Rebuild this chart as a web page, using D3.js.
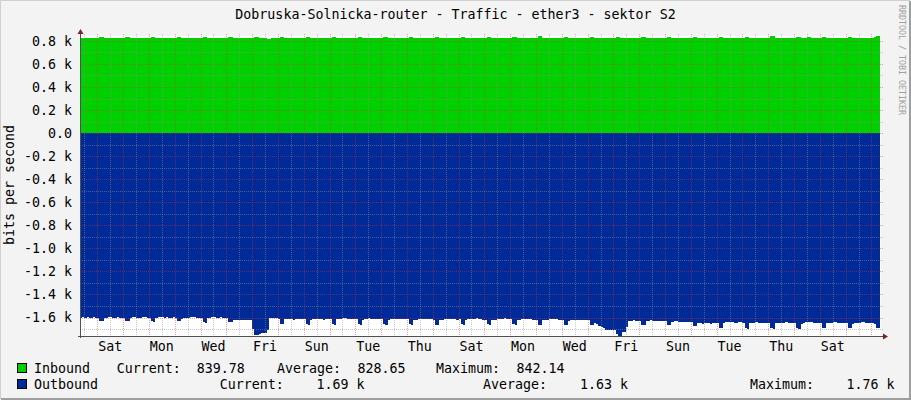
<!DOCTYPE html>
<html>
<head>
<meta charset="utf-8">
<script src="https://cdn.jsdelivr.net/npm/d3@7"></script>
<style>
	body { margin: 0; background: #f3f3f3; }
	text { font-family: "DejaVu Sans Mono", monospace; }
</style>
</head>
<body>
<div id="chart-area"></div>
<script>
// Traffic graph, one month, 2 hour bins starting Fri 08:00 (hour -16 from first Sat 00:00)

var binStart = -16;
var binHours = 2;

// inbound, bits per second
var inbound = [
	828, 829, 827, 828, 828, 829, 828, 827,                          // Fri (from 08:00)
	828, 836, 835, 829, 828, 827, 828, 829, 828, 827, 828, 828,      // Sat
	828, 835, 836, 828, 827, 828, 829, 828, 827, 828, 829, 828,      // Sun
	829, 836, 834, 828, 828, 827, 828, 828, 829, 828, 827, 828,      // Mon
	828, 835, 836, 829, 828, 828, 827, 828, 828, 829, 828, 827,      // Tue
	828, 836, 835, 828, 827, 828, 828, 829, 828, 827, 828, 828,      // Wed
	828, 834, 836, 828, 828, 827, 828, 828, 827, 828, 829, 828,      // Thu
	828, 836, 835, 828, 827, 826, 822, 819, 820, 826, 828, 828,      // Fri
	828, 835, 836, 829, 828, 827, 828, 828, 829, 828, 827, 828,      // Sat
	827, 836, 835, 828, 828, 829, 828, 827, 828, 828, 829, 828,      // Sun
	828, 835, 836, 828, 827, 828, 828, 829, 828, 827, 828, 829,      // Mon
	828, 836, 834, 829, 828, 827, 828, 828, 827, 828, 829, 828,      // Tue
	828, 835, 836, 828, 828, 829, 828, 827, 828, 828, 827, 828,      // Wed
	829, 836, 835, 828, 827, 828, 829, 828, 828, 827, 828, 828,      // Thu
	828, 834, 836, 828, 828, 827, 828, 829, 828, 828, 827, 828,      // Fri
	828, 836, 835, 829, 828, 828, 827, 828, 829, 828, 828, 827,      // Sat
	828, 835, 836, 828, 827, 828, 828, 828, 827, 828, 829, 828,      // Sun
	828, 836, 835, 828, 828, 827, 828, 829, 828, 827, 828, 828,      // Mon
	829, 842.14, 840, 829, 828, 828, 827, 828, 828, 829, 828, 828,   // Tue
	828, 835, 836, 828, 827, 828, 829, 828, 827, 828, 828, 829,      // Wed
	828, 836, 834, 828, 828, 827, 828, 827, 826, 826, 827, 827,      // Thu
	826, 833, 832, 826, 827, 828, 828, 829, 828, 827, 828, 828,      // Fri
	828, 835, 836, 828, 827, 828, 828, 829, 828, 827, 828, 828,      // Sat
	828, 836, 835, 829, 828, 827, 828, 828, 829, 828, 827, 828,      // Sun
	827, 835, 836, 828, 828, 829, 828, 827, 828, 828, 829, 828,      // Mon
	828, 836, 835, 828, 827, 828, 828, 829, 828, 827, 828, 828,      // Tue
	828, 835, 836, 829, 828, 827, 828, 828, 827, 828, 829, 828,      // Wed
	828, 840, 838, 828, 828, 827, 828, 829, 828, 828, 827, 828,      // Thu
	828, 836, 835, 828, 827, 828, 834, 833, 828, 827, 828, 828,      // Fri
	829, 836, 835, 828, 828, 827, 828, 828, 829, 828, 827, 828,      // Sat
	828, 835, 836, 828, 827, 828, 829, 828, 828, 827, 828, 828,      // Sun
	828, 836, 838, 839.78                                            // Mon (to 08:00)
];

// outbound, bits per second (drawn below zero)
var outbound = [
	1600, 1598, 1602, 1596, 1600, 1604, 1598, 1600,                          // Fri (from 08:00)
	1600, 1632, 1632, 1606, 1600, 1598, 1596, 1602, 1600, 1598, 1604, 1600,  // Sat
	1600, 1630, 1634, 1604, 1598, 1596, 1600, 1602, 1604, 1598, 1596, 1600,  // Sun
	1602, 1632, 1636, 1600, 1594, 1596, 1598, 1600, 1598, 1602, 1600, 1598,  // Mon
	1604, 1634, 1632, 1615, 1606, 1604, 1600, 1598, 1596, 1598, 1600, 1602,  // Tue
	1600, 1640, 1645, 1606, 1602, 1598, 1596, 1600, 1602, 1598, 1600, 1604,  // Wed
	1605, 1642, 1642, 1622, 1620, 1620, 1622, 1624, 1622, 1620, 1624, 1622,  // Thu
	1700, 1749, 1749, 1740, 1731, 1731, 1731, 1711, 1605, 1600, 1602, 1604,  // Fri
	1612, 1658, 1660, 1616, 1614, 1612, 1616, 1618, 1614, 1612, 1616, 1614,  // Sat
	1614, 1660, 1662, 1620, 1616, 1612, 1610, 1614, 1616, 1618, 1614, 1612,  // Sun
	1612, 1660, 1662, 1614, 1612, 1610, 1606, 1608, 1610, 1612, 1610, 1612,  // Mon
	1612, 1660, 1664, 1618, 1612, 1610, 1608, 1610, 1612, 1614, 1612, 1610,  // Tue
	1614, 1658, 1662, 1620, 1616, 1614, 1612, 1614, 1616, 1612, 1610, 1614,  // Wed
	1616, 1660, 1662, 1620, 1618, 1616, 1614, 1612, 1610, 1612, 1614, 1616,  // Thu
	1618, 1662, 1664, 1622, 1618, 1616, 1612, 1610, 1612, 1614, 1616, 1618,  // Fri
	1616, 1660, 1662, 1620, 1616, 1614, 1612, 1610, 1608, 1612, 1616, 1618,  // Sat
	1620, 1660, 1662, 1624, 1620, 1618, 1614, 1612, 1610, 1608, 1612, 1614,  // Sun
	1616, 1660, 1662, 1622, 1618, 1616, 1612, 1610, 1614, 1616, 1618, 1620,  // Mon
	1622, 1662, 1664, 1624, 1620, 1618, 1616, 1612, 1610, 1614, 1620, 1622,  // Tue
	1622, 1662, 1664, 1626, 1622, 1620, 1618, 1620, 1622, 1624, 1622, 1620,  // Wed
	1622, 1662, 1664, 1650, 1660, 1670, 1682, 1690, 1711, 1711, 1711, 1711,  // Thu
	1711, 1745, 1760, 1760, 1726, 1726, 1682, 1630, 1626, 1624, 1628, 1626,  // Fri
	1626, 1662, 1664, 1630, 1626, 1624, 1628, 1630, 1632, 1630, 1628, 1632,  // Sat
	1632, 1664, 1666, 1636, 1634, 1632, 1636, 1638, 1636, 1640, 1638, 1636,  // Sun
	1636, 1672, 1674, 1648, 1650, 1652, 1648, 1646, 1650, 1652, 1648, 1650,  // Mon
	1648, 1690, 1692, 1650, 1642, 1640, 1638, 1640, 1644, 1646, 1642, 1640,  // Tue
	1644, 1694, 1696, 1648, 1646, 1644, 1642, 1646, 1648, 1650, 1648, 1646,  // Wed
	1646, 1694, 1696, 1650, 1648, 1650, 1646, 1644, 1642, 1646, 1648, 1650,  // Thu
	1648, 1694, 1696, 1652, 1646, 1642, 1640, 1638, 1642, 1644, 1646, 1648,  // Fri
	1646, 1690, 1692, 1650, 1646, 1644, 1642, 1640, 1644, 1646, 1648, 1650,  // Sat
	1648, 1690, 1692, 1652, 1650, 1648, 1644, 1642, 1640, 1644, 1648, 1650,  // Sun
	1650, 1652, 1690, 1690                                                   // Mon (to 08:00)
];

// x labels every second day, centred on noon
var dayLabels = ["Sat", "Mon", "Wed", "Fri", "Sun", "Tue", "Thu", "Sat",
	"Mon", "Wed", "Fri", "Sun", "Tue", "Thu", "Sat"];
var yTicks = d3.range(-1700, 801, 100);
var inStats = ["839.78", "828.65", "842.14"];
var outStats = ["1.69 k", "1.63 k", "1.76 k"];
var statNames = ["Current:", "Average:", "Maximum:"];

var completeWidth = 911,
	completeHeight = 400;
var plot = { left: 81, top: 36, width: 800, height: 300 };
var fontSize = "13.3px";

var svg = d3.select("#chart-area")
	.append("svg")
		.attr("width", completeWidth)
		.attr("height", completeHeight);

// background + shaded frame
svg.append("rect")
	.attr("width", completeWidth)
	.attr("height", completeHeight)
	.attr("fill", "#f3f3f3");
svg.append("path")
	.attr("d", "M0,399V0H910")
	.attr("fill", "none")
	.attr("stroke", "#cfcfcf")
	.attr("stroke-width", 2);
svg.append("path")
	.attr("d", "M1,399H910V1")
	.attr("fill", "none")
	.attr("stroke", "#9e9e9e")
	.attr("stroke-width", 2);

// Scales (hours from first Saturday 00:00)
var x = d3.scaleLinear()
	.domain([-15.16, 744 - 15.16])
	.range([plot.left, plot.left + plot.width]);
var y = d3.scaleLinear()
	.domain([-1760, 842.14])
	.range([plot.top + plot.height, plot.top]);

// canvas
svg.append("rect")
	.attr("x", plot.left)
	.attr("y", plot.top)
	.attr("width", plot.width)
	.attr("height", plot.height)
	.attr("fill", "#ffffff");

var defs = svg.append("defs");
defs.append("clipPath")
	.attr("id", "plot-clip")
	.append("rect")
		.attr("x", plot.left)
		.attr("y", plot.top)
		.attr("width", plot.width)
		.attr("height", plot.height);

// dotted grid = 1px dot every 2px, done with small fill patterns
var minorColor = "rgba(143,143,143,0.5)";
var majorColor = "rgba(222,48,48,0.45)";
[["h-minor", minorColor, 2, 1], ["h-major", majorColor, 2, 1],
 ["v-minor", minorColor, 1, 2], ["v-major", majorColor, 1, 2]].forEach(function(p) {
	defs.append("pattern")
		.attr("id", p[0])
		.attr("patternUnits", "userSpaceOnUse")
		.attr("width", p[2])
		.attr("height", p[3])
		.append("rect")
			.attr("width", 1)
			.attr("height", 1)
			.attr("fill", p[1]);
});

function toPoints(values, sign) {
	var pts = values.map(function(v, i) {
		return { t: binStart + i * binHours, v: sign * v };
	});
	pts.push({ t: binStart + values.length * binHours, v: sign * values[values.length - 1] });
	return pts;
}

var area = d3.area()
	.curve(d3.curveStepAfter)
	.x(function(d) { return x(d.t); })
	.y0(y(0))
	.y1(function(d) { return y(d.v); });

var g = svg.append("g").attr("clip-path", "url(#plot-clip)");
g.append("path")
	.attr("d", area(toPoints(inbound, 1)))
	.attr("fill", "#00cf00")
	.attr("shape-rendering", "crispEdges");
g.append("path")
	.attr("d", area(toPoints(outbound, -1)))
	.attr("fill", "#002a97")
	.attr("shape-rendering", "crispEdges");

// Grid (on top of the areas, sticking out 2px)
var grid = svg.append("g").attr("shape-rendering", "crispEdges");

grid.selectAll(".hgrid")
	.data(yTicks)
	.enter().append("rect")
		.attr("x", plot.left - 2)
		.attr("width", plot.width + 4)
		.attr("y", function(d) { return Math.round(y(d)); })
		.attr("height", 1)
		.attr("fill", function(d) { return d % 200 === 0 ? "url(#h-major)" : "url(#h-minor)"; });

var vTicks = d3.range(-12, 729, 12);
grid.selectAll(".vgrid")
	.data(vTicks)
	.enter().append("rect")
		.attr("x", function(d) { return Math.round(x(d)); })
		.attr("width", 1)
		.attr("y", plot.top - 2)
		.attr("height", plot.height + 4)
		.attr("fill", function(d) { return d % 24 === 0 ? "url(#v-major)" : "url(#v-minor)"; });

// Axes with arrows
svg.append("line")
	.attr("x1", plot.left - 0.5).attr("x2", plot.left - 0.5)
	.attr("y1", plot.top + plot.height + 2).attr("y2", plot.top - 3)
	.attr("stroke", "#505050");
svg.append("line")
	.attr("x1", plot.left - 3).attr("x2", plot.left + plot.width + 3)
	.attr("y1", plot.top + plot.height + 0.5).attr("y2", plot.top + plot.height + 0.5)
	.attr("stroke", "#505050");
svg.append("path")
	.attr("d", "M77.5,34L80.5,29L83.5,34Z")
	.attr("fill", "#7f1f1f");
svg.append("path")
	.attr("d", "M883,333.5L888,336.5L883,339.5Z")
	.attr("fill", "#7f1f1f");

// Y labels
svg.selectAll(".ylabel")
	.data(yTicks.filter(function(d) { return d % 200 === 0; }))
	.enter().append("text")
		.attr("x", 72)
		.attr("y", function(d) { return y(d); })
		.attr("dy", "0.36em")
		.attr("text-anchor", "end")
		.attr("font-size", fontSize)
		.text(function(d) { return d === 0 ? "0.0" : (d / 1000).toFixed(1) + " k"; });

// X labels
svg.selectAll(".xlabel")
	.data(dayLabels)
	.enter().append("text")
		.attr("x", function(d, i) { return x(i * 48 + 12); })
		.attr("y", 350.5)
		.attr("text-anchor", "middle")
		.attr("font-size", fontSize)
		.text(function(d) { return d; });

// Title, axis title, watermark
svg.append("text")
	.attr("x", completeWidth / 2)
	.attr("y", 19)
	.attr("text-anchor", "middle")
	.attr("font-size", fontSize)
	.text("Dobruska-Solnicka-router - Traffic - ether3 - sektor S2");
svg.append("text")
	.attr("transform", "translate(14,185) rotate(-90)")
	.attr("text-anchor", "middle")
	.attr("font-size", fontSize)
	.text("bits per second");
svg.append("text")
	.attr("transform", "translate(899,5) rotate(90)")
	.attr("font-size", "8.3px")
	.attr("fill", "#a0a0a0")
	.text("RRDTOOL / TOBI OETIKER");

// Legend
var legend = [
	{ name: "Inbound", color: "#00cf00", stats: inStats, y: 373,
		pos: [116.7, 196.7, 277, 357.6, 436, 516.6] },
	{ name: "Outbound", color: "#002a97", stats: outStats, y: 389,
		pos: [219.7, 316.4, 483, 580, 750, 846.5] }
];
legend.forEach(function(row) {
	svg.append("rect")
		.attr("x", 17.5)
		.attr("y", row.y - 9.5)
		.attr("width", 9)
		.attr("height", 9)
		.attr("fill", row.color)
		.attr("stroke", "#000");
	svg.append("text")
		.attr("x", 34)
		.attr("y", row.y)
		.attr("font-size", fontSize)
		.text(row.name);
	statNames.forEach(function(s, i) {
		svg.append("text")
			.attr("x", row.pos[i * 2])
			.attr("y", row.y)
			.attr("font-size", fontSize)
			.text(s);
		svg.append("text")
			.attr("x", row.pos[i * 2 + 1])
			.attr("y", row.y)
			.attr("font-size", fontSize)
			.text(row.stats[i]);
	});
});
</script>
</body>
</html>
